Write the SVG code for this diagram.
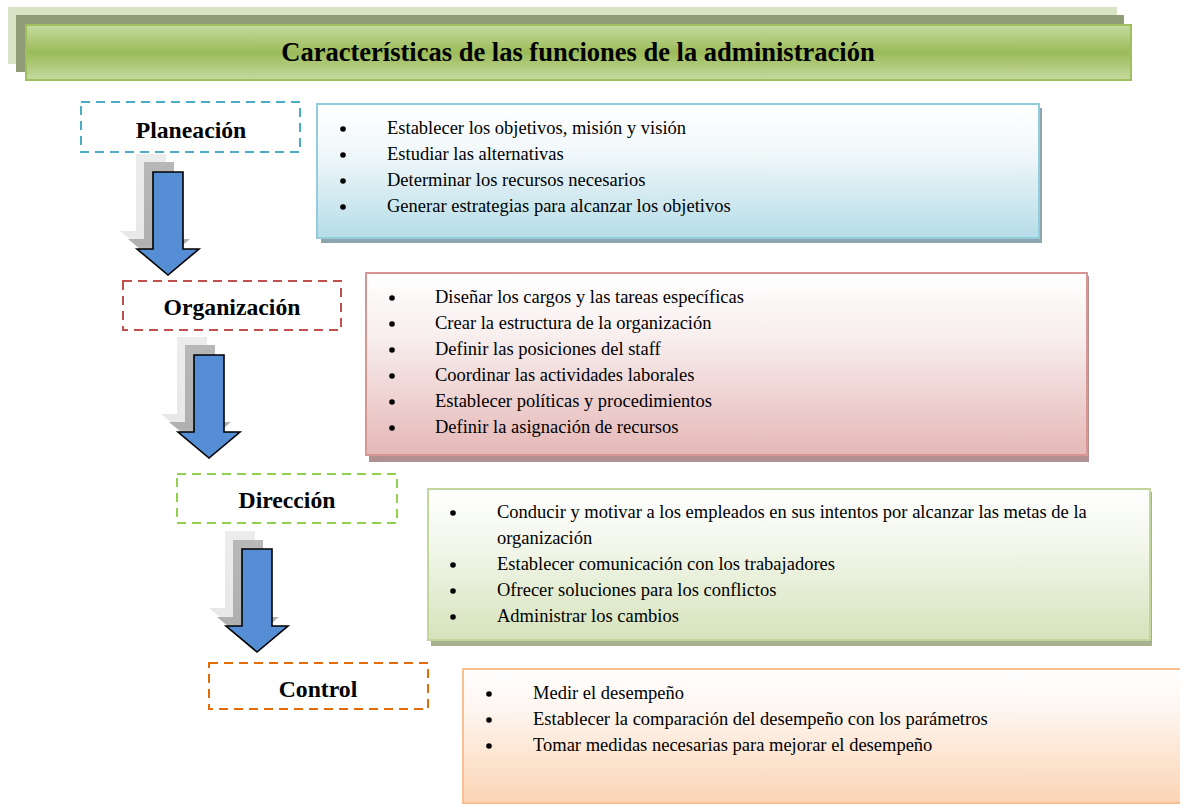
<svg xmlns="http://www.w3.org/2000/svg" width="1180" height="804" viewBox="0 0 1180 804">
<defs>
<linearGradient id="gTitle" x1="0" y1="0" x2="0" y2="1">
<stop offset="0" stop-color="#c6da9f"/><stop offset="0.5" stop-color="#9bbb59"/><stop offset="1" stop-color="#c6da9f"/>
</linearGradient>
<linearGradient id="gBlue" x1="0" y1="0" x2="0" y2="1">
<stop offset="0" stop-color="#ffffff"/><stop offset="0.35" stop-color="#f2f8fa"/><stop offset="1" stop-color="#b6dde8"/>
</linearGradient>
<linearGradient id="gPink" x1="0" y1="0" x2="0" y2="1">
<stop offset="0" stop-color="#ffffff"/><stop offset="0.35" stop-color="#f8eeee"/><stop offset="1" stop-color="#e5b8b7"/>
</linearGradient>
<linearGradient id="gGreen" x1="0" y1="0" x2="0" y2="1">
<stop offset="0" stop-color="#ffffff"/><stop offset="0.35" stop-color="#f3f7ec"/><stop offset="1" stop-color="#d6e3bc"/>
</linearGradient>
<linearGradient id="gOrange" x1="0" y1="0" x2="0" y2="1">
<stop offset="0" stop-color="#ffffff"/><stop offset="0.3" stop-color="#fef6f0"/><stop offset="1" stop-color="#fbd4b4"/>
</linearGradient>
<linearGradient id="gShDark" x1="0" y1="0" x2="0" y2="1">
<stop offset="0" stop-color="#b8b8b8"/><stop offset="0.8" stop-color="#b0b0b0"/><stop offset="1" stop-color="#d8d8d8"/>
</linearGradient>
<linearGradient id="gShLight" x1="0" y1="0" x2="0" y2="1">
<stop offset="0" stop-color="#ececec"/><stop offset="0.8" stop-color="#e8e8e8"/><stop offset="1" stop-color="#f6f6f6"/>
</linearGradient>
<path id="arrowShape" d="M0,0 H30 V77 H46 L15,103 L-16,77 H0 Z"/>
</defs>
<style>
.title{font-family:"Liberation Serif","Times New Roman",serif;font-weight:bold;font-size:26.5px;fill:#000}
.lbl{font-family:"Liberation Serif","Times New Roman",serif;font-weight:bold;font-size:23.7px;fill:#000}
.item{font-family:"Liberation Serif","Times New Roman",serif;font-size:18.5px;fill:#000}
.dash{fill:#fff;stroke-width:2;stroke-dasharray:9 6}
.arrow{fill:#558ed5;stroke:#000;stroke-width:1.6;stroke-linejoin:miter}
.shD{fill:url(#gShDark);stroke:none}
.shL{fill:url(#gShLight);stroke:none}
.dot{fill:#000}
</style>
<rect width="1180" height="804" fill="#fff"/>

<g id="title">
<rect x="8" y="7" width="1109" height="57" fill="#d7e3c4"/>
<rect x="16" y="15" width="1108" height="57" fill="#8f9c77"/>
<rect x="26" y="25" width="1105" height="55" fill="url(#gTitle)" stroke="#9fbf5f" stroke-width="2"/>
<text class="title" x="578" y="61" text-anchor="middle">Características de las funciones de la administración</text>
</g>

<g id="connectors">
<g id="arrow1">
<use href="#arrowShape" class="shL" transform="translate(136,154)"/>
<use href="#arrowShape" class="shD" transform="translate(144,162)"/>
<use href="#arrowShape" class="arrow" transform="translate(153,172)"/>
</g>
<g id="arrow2">
<use href="#arrowShape" class="shL" transform="translate(177,337)"/>
<use href="#arrowShape" class="shD" transform="translate(185,345)"/>
<use href="#arrowShape" class="arrow" transform="translate(194,355)"/>
</g>
<g id="arrow3">
<use href="#arrowShape" class="shL" transform="translate(225,531)"/>
<use href="#arrowShape" class="shD" transform="translate(233,540)"/>
<use href="#arrowShape" class="arrow" transform="translate(242,549)"/>
</g>
</g>

<g id="planeacion">
<rect class="dash" x="81" y="102" width="219" height="50" stroke="#4bacc6"/>
<text class="lbl" x="191" y="138" text-anchor="middle">Planeación</text>
</g>
<g id="planeacion-detail">
<rect x="321" y="108" width="721" height="135" fill="#8fa5ad"/>
<rect x="317" y="104" width="722" height="134" fill="url(#gBlue)" stroke="#93cddd" stroke-width="2"/>
<circle class="dot" cx="343" cy="129" r="2.8"/>
<circle class="dot" cx="343" cy="155" r="2.8"/>
<circle class="dot" cx="343" cy="181" r="2.8"/>
<circle class="dot" cx="343" cy="207" r="2.8"/>
<text class="item" x="387" y="134">Establecer los objetivos, misión y visión</text>
<text class="item" x="387" y="160">Estudiar las alternativas</text>
<text class="item" x="387" y="186">Determinar los recursos necesarios</text>
<text class="item" x="387" y="212">Generar estrategias para alcanzar los objetivos</text>
</g>

<g id="organizacion">
<rect class="dash" x="123" y="281" width="218" height="49" stroke="#c0504d"/>
<text class="lbl" x="232" y="315" text-anchor="middle">Organización</text>
</g>
<g id="organizacion-detail">
<rect x="369" y="276" width="720" height="186" fill="#b09090"/>
<rect x="366" y="273" width="721" height="182" fill="url(#gPink)" stroke="#d99594" stroke-width="2"/>
<circle class="dot" cx="392" cy="298" r="2.8"/>
<circle class="dot" cx="392" cy="324" r="2.8"/>
<circle class="dot" cx="392" cy="350" r="2.8"/>
<circle class="dot" cx="392" cy="376" r="2.8"/>
<circle class="dot" cx="392" cy="402" r="2.8"/>
<circle class="dot" cx="392" cy="428" r="2.8"/>
<text class="item" x="435" y="303">Diseñar los cargos y las tareas específicas</text>
<text class="item" x="435" y="329">Crear la estructura de la organización</text>
<text class="item" x="435" y="355">Definir las posiciones del staff</text>
<text class="item" x="435" y="381">Coordinar las actividades laborales</text>
<text class="item" x="435" y="407">Establecer políticas y procedimientos</text>
<text class="item" x="435" y="433">Definir la asignación de recursos</text>
</g>

<g id="direccion">
<rect class="dash" x="177" y="474" width="220" height="49" stroke="#92d050"/>
<text class="lbl" x="287" y="508" text-anchor="middle">Dirección</text>
</g>
<g id="direccion-detail">
<rect x="431" y="492" width="721" height="154" fill="#a8b090"/>
<rect x="428" y="489" width="722" height="151" fill="url(#gGreen)" stroke="#c2d69b" stroke-width="2"/>
<circle class="dot" cx="453" cy="513" r="2.8"/>
<circle class="dot" cx="453" cy="565" r="2.8"/>
<circle class="dot" cx="453" cy="591" r="2.8"/>
<circle class="dot" cx="453" cy="617" r="2.8"/>
<text class="item" x="497" y="518">Conducir y motivar a los empleados en sus intentos por alcanzar las metas de la</text>
<text class="item" x="497" y="544">organización</text>
<text class="item" x="497" y="570">Establecer comunicación con los trabajadores</text>
<text class="item" x="497" y="596">Ofrecer soluciones para los conflictos</text>
<text class="item" x="497" y="622">Administrar los cambios</text>
</g>

<g id="control">
<rect class="dash" x="209" y="663" width="219" height="46" stroke="#e36c09"/>
<text class="lbl" x="318" y="697" text-anchor="middle">Control</text>
</g>
<g id="control-detail">
<rect x="463" y="669" width="730" height="134" fill="url(#gOrange)" stroke="#fabf8f" stroke-width="2"/>
<circle class="dot" cx="489" cy="694" r="2.8"/>
<circle class="dot" cx="489" cy="720" r="2.8"/>
<circle class="dot" cx="489" cy="746" r="2.8"/>
<text class="item" x="533" y="699">Medir el desempeño</text>
<text class="item" x="533" y="725">Establecer la comparación del desempeño con los parámetros</text>
<text class="item" x="533" y="751">Tomar medidas necesarias para mejorar el desempeño</text>
</g>
</svg>
